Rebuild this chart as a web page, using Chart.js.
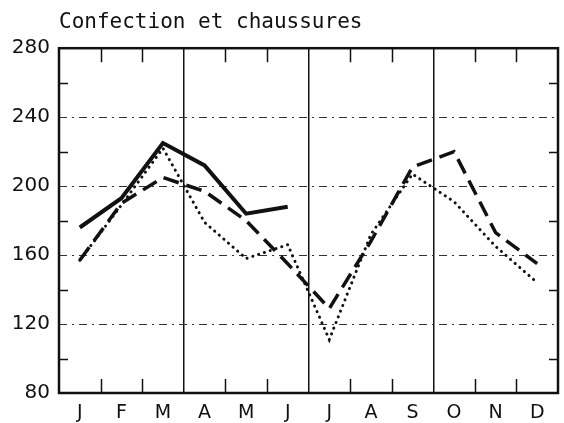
<!DOCTYPE html>
<html>
<head>
<meta charset="utf-8">
<script src="https://cdn.jsdelivr.net/npm/chart.js@4/dist/chart.umd.min.js"></script>
<style>
  html, body { margin: 0; padding: 0; background: #fff; }
  #wrap { width: 564px; height: 423px; }
</style>
</head>
<body>
<div id="wrap"><canvas id="chart"></canvas></div>
<script>
const months = ['J', 'F', 'M', 'A', 'M', 'J', 'J', 'A', 'S', 'O', 'N', 'D'];
// année en cours (jan - juin seulement)
const currentYear = [176, 193, 225, 212, 184, 188, null, null, null, null, null, null];
const previousYear = [157, 190, 205, 197, 180, 155, 129, 168, 211, 220, 173, 155];
const average = [157, 189, 222, 179, 158, 166, 111, 172, 207, 191, 165, 144];
const yMin = 80;
const yMax = 280;
const minorTicks = [100, 140, 180, 220, 260];
const quarterEdges = [3, 6, 9];

const INK = '#111';
const FONT = "'DejaVu Sans', sans-serif";

// cadre + petites graduations intérieures
const framePlugin = {
    id: 'frame',
    afterDatasetsDraw(chart) {
        const { ctx, chartArea: a, scales } = chart;
        const x = scales.x, y = scales.y;
        ctx.save();
        ctx.strokeStyle = INK;
        ctx.setLineDash([]);
        ctx.lineWidth = 1.5;
        ctx.beginPath();
        for (let i = 1; i < months.length; i++) {
            if (quarterEdges.includes(i)) continue;
            const px = Math.round((x.getPixelForValue(i - 1) + x.getPixelForValue(i)) / 2) + 0.5;
            ctx.moveTo(px, a.top); ctx.lineTo(px, a.top + 14);
            ctx.moveTo(px, a.bottom); ctx.lineTo(px, a.bottom - 14);
        }
        minorTicks.forEach(v => {
            const py = Math.round(y.getPixelForValue(v)) + 0.5;
            ctx.moveTo(a.left, py); ctx.lineTo(a.left + 9, py);
            ctx.moveTo(a.right, py); ctx.lineTo(a.right - 9, py);
        });
        ctx.stroke();
        ctx.lineWidth = 2.5;
        ctx.strokeRect(a.left, a.top, a.right - a.left, a.bottom - a.top);
        ctx.restore();
    }
};

new Chart(document.getElementById('chart'), {
    type: 'line',
    data: {
        labels: months,
        datasets: [
            {
                label: 'solid',
                data: currentYear,
                borderColor: INK,
                borderWidth: 4,
                pointRadius: 0,
                tension: 0,
                spanGaps: false
            },
            {
                label: 'dashed',
                data: previousYear,
                borderColor: INK,
                borderWidth: 3.5,
                borderDash: [16, 8],
                pointRadius: 0,
                tension: 0
            },
            {
                label: 'dotted',
                data: average,
                borderColor: INK,
                borderWidth: 3,
                borderDash: [0.1, 6],
                borderCapStyle: 'round',
                pointRadius: 0,
                tension: 0
            }
        ]
    },
    options: {
        responsive: true,
        maintainAspectRatio: false,
        animation: false,
        layout: { padding: { left: 0, right: 6, top: 0, bottom: 0 } },
        plugins: {
            legend: { display: false },
            tooltip: { enabled: false },
            title: {
                display: true,
                text: 'Confection et chaussures',
                align: 'start',
                fullSize: false,
                color: INK,
                font: { family: "'DejaVu Sans Mono', monospace", size: 21, weight: 'normal' },
                padding: { top: 10, bottom: 13 }
            }
        },
        scales: {
            x: {
                offset: true,
                grid: {
                    offset: true,
                    drawTicks: false,
                    lineWidth: 1.5,
                    color: ctx => quarterEdges.includes(ctx.index) ? INK : 'rgba(0,0,0,0)'
                },
                border: { display: false },
                ticks: {
                    color: INK,
                    padding: 9,
                    font: { family: FONT, size: 19 }
                },
                afterFit(scale) { scale.height = 30; }
            },
            y: {
                min: yMin,
                max: yMax,
                grid: {
                    drawTicks: false,
                    lineWidth: 1,
                    color: ctx => (ctx.tick && ctx.tick.value % 40 === 0 && ctx.tick.value !== yMin && ctx.tick.value !== yMax) ? '#333' : 'rgba(0,0,0,0)'
                },
                border: { display: false, dash: [8, 5, 2, 5] },
                ticks: {
                    stepSize: 20,
                    color: INK,
                    padding: 9,
                    font: { family: FONT, size: 20 },
                    callback: v => v % 40 === 0 ? v : ''
                },
                afterFit(scale) { scale.width = 59; }
            }
        }
    },
    plugins: [framePlugin]
});
</script>
</body>
</html>
